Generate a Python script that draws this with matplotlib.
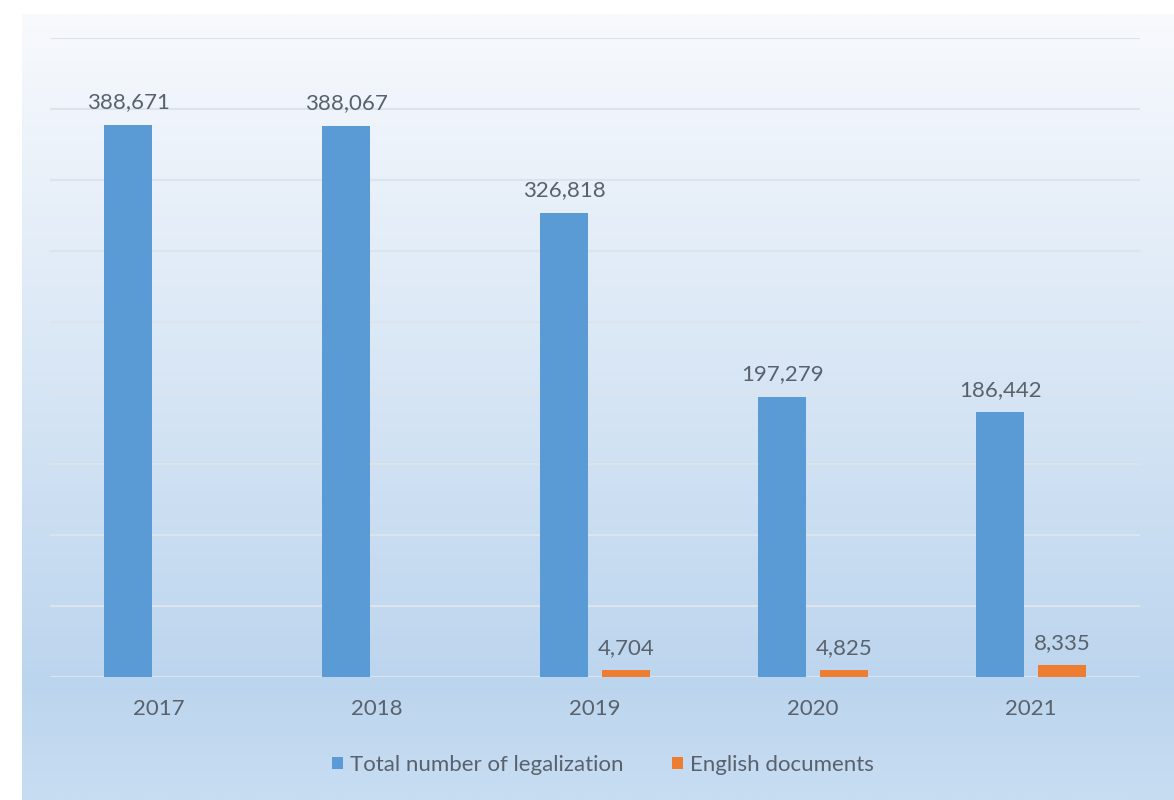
import matplotlib.pyplot as plt
import numpy as np

years = ['2017', '2018', '2019', '2020', '2021']
total_legal = [388671, 388067, 326818, 197279, 186442]
english_docs = [0, 0, 4704, 4825, 8335]
series_names = ['Total number of legalization', 'English documents']

blue = '#5B9BD5'
orange = '#ED7D31'
txt = '#59626C'
font = 'Lato'

fig = plt.figure(figsize=(11.74, 8), dpi=100)

# gradient panel behind the chart
bg = fig.add_axes([22 / 1174, 0, 1 - 22 / 1174, 1 - 14 / 800])
stops_y = np.array([0.0, 0.85, 1.0])
stops_c = np.array([[248, 250, 253], [188, 213, 238], [199, 221, 242]]) / 255
t = np.linspace(0, 1, 400)
grad = np.stack([np.interp(t, stops_y, stops_c[:, i]) for i in range(3)], axis=-1)
bg.imshow(grad[:, None, :], aspect='auto', extent=[0, 1, 1, 0])
bg.axis('off')

ax = fig.add_axes([50 / 1174, 123 / 800, 1090 / 1174, 639 / 800])
ax.patch.set_alpha(0)

x = np.arange(len(years))
w = 0.22
off = 0.142
b1 = ax.bar(x - off, total_legal, w, color=blue, label=series_names[0], zorder=3)
b2 = ax.bar(x + off, english_docs, w, color=orange, label=series_names[1], zorder=3)

for rect, v in zip(b1, total_legal):
    ax.annotate(f'{v:,}', (rect.get_x() + rect.get_width() / 2, v), xytext=(0, 9),
                textcoords='offset points', ha='center', va='bottom',
                fontsize=16, color=txt, family=font)
for rect, v in zip(b2, english_docs):
    if v > 0:
        ax.annotate(f'{v:,}', (rect.get_x() + rect.get_width() / 2, v), xytext=(0, 9),
                    textcoords='offset points', ha='center', va='bottom',
                    fontsize=16, color=txt, family=font)

ax.set_xlim(-0.5, len(years) - 0.5)
ax.set_ylim(0, 450000)
ax.set_yticks(np.arange(0, 450001, 50000))
ax.set_yticklabels([])
ax.tick_params(axis='y', length=0)
ax.grid(axis='y', color='#DDE3EA', linewidth=1.5, zorder=0)
ax.set_xticks(x)
ax.set_xticklabels(years, fontsize=16, color=txt, family=font)
ax.tick_params(axis='x', length=0, pad=16)
for s in ax.spines.values():
    s.set_visible(False)

fig.legend(handles=[b1, b2], labels=series_names, loc='center',
           bbox_to_anchor=(603 / 1174, 1 - 765 / 800), ncol=2, frameon=False,
           prop={'family': font, 'size': 16}, labelcolor=txt,
           handlelength=0.5, handleheight=0.5, handletextpad=0.3, columnspacing=2.2)

fig.savefig('out.png', dpi=100)
